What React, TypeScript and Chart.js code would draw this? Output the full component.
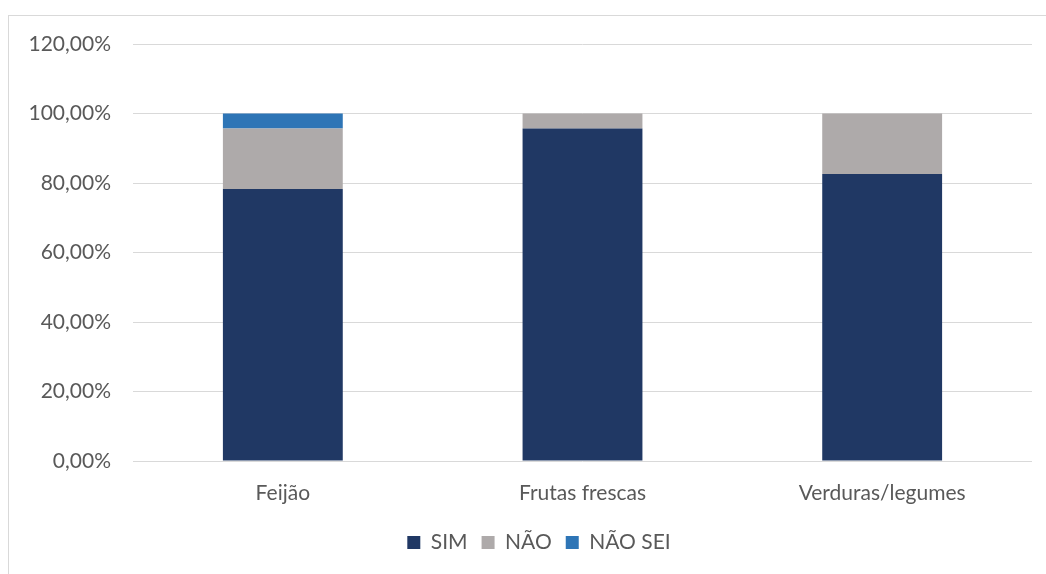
import React, { useEffect, useRef } from "react";
import { Chart, registerables } from "chart.js";

Chart.register(...registerables);

const categories = ["Feijão", "Frutas frescas", "Verduras/legumes"];
const simValues = [78.26, 95.65, 82.61];
const naoValues = [17.39, 4.35, 17.39];
const naoSeiValues = [4.35, 0, 0];
const yTicks = [0, 20, 40, 60, 80, 100, 120];

const FONT = "Lato, 'Liberation Sans', sans-serif";
const FONT_SIZE = 21;
const TEXT = "#595959";
const GRID = "#d9d9d9";

const fmtPct = (v: number) => v.toFixed(2).replace(".", ",") + "%";

export default function App() {
  const ref = useRef<HTMLCanvasElement | null>(null);

  useEffect(() => {
    if (!ref.current) return;
    const chart = new Chart(ref.current, {
      type: "bar",
      data: {
        labels: categories,
        datasets: [
          { label: "SIM", data: simValues, backgroundColor: "#203864", borderWidth: 0 },
          { label: "NÃO", data: naoValues, backgroundColor: "#aeaaaa", borderWidth: 0 },
          { label: "NÃO SEI", data: naoSeiValues, backgroundColor: "#2e75b6", borderWidth: 0 },
        ],
      },
      options: {
        responsive: false,
        animation: false,
        layout: { padding: { left: 0, right: 0, top: 28, bottom: 31 } },
        datasets: { bar: { categoryPercentage: 1, barPercentage: 0.4 } },
        plugins: {
          tooltip: { enabled: false },
          legend: {
            position: "bottom",
            labels: {
              boxWidth: 13,
              boxHeight: 13,
              padding: 14,
              color: TEXT,
              font: { family: FONT, size: FONT_SIZE },
            },
          },
        },
        scales: {
          x: {
            stacked: true,
            grid: { display: false },
            border: { display: false },
            afterFit: (s: any) => {
              s.height = 57;
            },
            ticks: { color: TEXT, font: { family: FONT, size: FONT_SIZE }, padding: 11.5, maxRotation: 0 },
          },
          y: {
            stacked: true,
            min: 0,
            max: 120,
            afterFit: (s: any) => {
              s.width = 124;
            },
            afterBuildTicks: (s: any) => {
              s.ticks = yTicks.map((v) => ({ value: v }));
            },
            // invisible tick marks provide the gap between labels and the plot
            grid: { color: GRID, lineWidth: 1, drawTicks: true, tickLength: 22, tickColor: "rgba(0,0,0,0)" },
            border: { display: false },
            ticks: {
              color: TEXT,
              font: { family: FONT, size: FONT_SIZE },
              padding: 0,
              callback: (v: any) => fmtPct(Number(v)),
            },
          },
          // empty right-hand margin so the legend stays centred on the whole canvas
          yRight: {
            position: "right",
            display: true,
            grid: { display: false },
            border: { display: false },
            ticks: { display: false },
            afterFit: (s: any) => {
              s.width = 37;
            },
          },
        },
      },
    });
    return () => chart.destroy();
  }, []);

  return (
    <div style={{ position: "fixed", inset: 0, overflow: "hidden", background: "#fff" }}>
      <div
        style={{
          position: "absolute",
          left: 8,
          top: 15,
          width: 1062,
          height: 580,
          border: `1px solid ${GRID}`,
          boxSizing: "border-box",
        }}
      >
        <canvas ref={ref} width={1060} height={578} style={{ display: "block" }} />
      </div>
    </div>
  );
}
